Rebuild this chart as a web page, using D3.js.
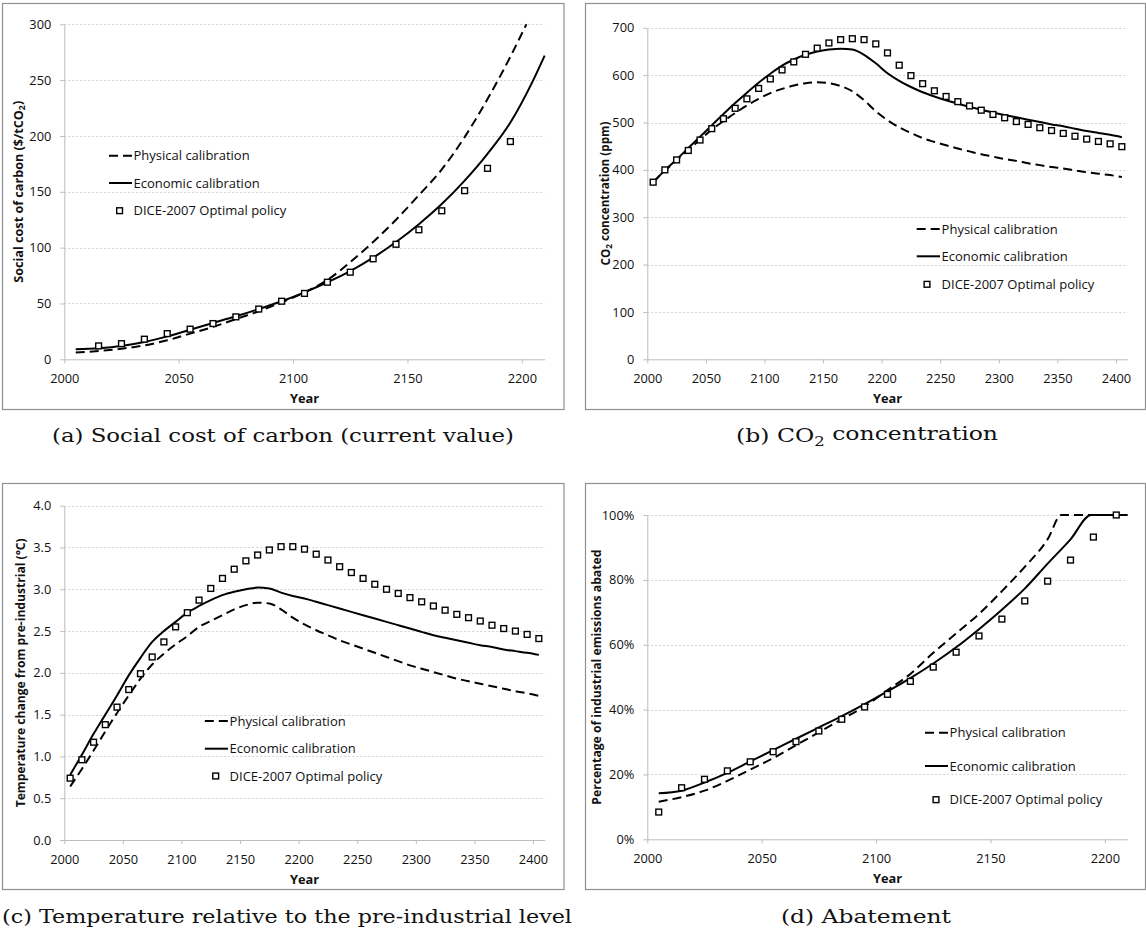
<!DOCTYPE html>
<html>
<head>
<meta charset="utf-8">
<script src="https://cdn.jsdelivr.net/npm/d3@7"></script>
<style>
  body { margin: 0; background: #fff; }
  svg { display: block; }
</style>
</head>
<body>
<svg id="fig" width="1146" height="933"></svg>
<script>
// ---------------- data ----------------
const seriesNames = ["Physical calibration", "Economic calibration", "DICE-2007 Optimal policy"];

// tick values
const yearTicksShort = [2000, 2050, 2100, 2150, 2200];
const yearTicksLong = [2000, 2050, 2100, 2150, 2200, 2250, 2300, 2350, 2400];
const sccTicks = [0, 50, 100, 150, 200, 250, 300];
const co2Ticks = [0, 100, 200, 300, 400, 500, 600, 700];
const tempTicks = [0, 0.5, 1, 1.5, 2, 2.5, 3, 3.5, 4];
const abateTicks = [0, 20, 40, 60, 80, 100];

// decadal time steps used by the 400-year runs
const decadeYears = [2005, 2015, 2025, 2035, 2045, 2055, 2065, 2075, 2085, 2095,
  2105, 2115, 2125, 2135, 2145, 2155, 2165, 2175, 2185, 2195,
  2205, 2215, 2225, 2235, 2245, 2255, 2265, 2275, 2285, 2295,
  2305, 2315, 2325, 2335, 2345, 2355, 2365, 2375, 2385, 2395, 2405];

// (a) social cost of carbon, $/tCO2
const sccPhysYears = [2005, 2015, 2025, 2035, 2045, 2055, 2065, 2075, 2085, 2095,
  2105, 2115, 2125, 2135, 2145, 2155, 2165, 2175, 2185, 2195, 2202];
const sccPhys = [6, 7.5, 9.5, 12.5, 17, 23, 29, 36, 43, 51,
  60, 71, 87, 105, 125, 147, 170, 199, 233, 271, 300];
const sccEconYears = [2005, 2015, 2025, 2035, 2045, 2055, 2065, 2075, 2085, 2095,
  2105, 2115, 2125, 2135, 2145, 2155, 2165, 2175, 2185, 2195, 2205, 2210];
const sccEcon = [9, 10, 12, 15.5, 20.5, 26.5, 32.5, 38.5, 45, 52,
  60, 69, 79, 91, 105, 121, 139, 160, 184, 212, 250, 272];
const sccDiceYears = [2015, 2025, 2035, 2045, 2055, 2065, 2075, 2085, 2095, 2105,
  2115, 2125, 2135, 2145, 2155, 2165, 2175, 2185, 2195];
const sccDice = [12, 14, 18, 23, 27, 32, 38, 45, 52, 59,
  69, 78, 90, 103, 116, 133, 151, 171, 195];

// (b) CO2 concentration, ppm
const co2Phys = [374, 398, 420, 442, 464, 485, 503, 520, 536, 550,
  562, 571, 578, 583, 585, 583, 577, 566, 547, 524,
  505, 490, 478, 467, 459, 452, 445, 439, 433, 428,
  423, 419, 414, 410, 406, 403, 399, 395, 392, 389, 385];
const co2Econ = [374, 399, 422, 446, 470, 494, 518, 541, 563, 584,
  603, 620, 633, 643, 650, 654, 656, 654, 643, 625,
  604, 588, 575, 564, 555, 547, 540, 533, 527, 521,
  516, 511, 506, 501, 496, 492, 487, 482, 478, 474, 469];
const co2Dice = [374, 400, 421, 441, 463, 487, 508, 530, 550, 572,
  592, 611, 628, 644, 657, 668, 675, 677, 675, 666,
  647, 621, 599, 582, 567, 555, 544, 535, 526, 517,
  510, 502, 496, 489, 483, 477, 471, 465, 460, 455, 449];

// (c) temperature change from pre-industrial, degC
const tempPhys = [0.64, 0.85, 1.07, 1.3, 1.52, 1.73, 1.93, 2.1, 2.23, 2.34,
  2.44, 2.55, 2.62, 2.69, 2.76, 2.81, 2.84, 2.83, 2.76, 2.66,
  2.58, 2.51, 2.45, 2.39, 2.34, 2.29, 2.24, 2.19, 2.14, 2.09,
  2.05, 2.01, 1.97, 1.93, 1.9, 1.87, 1.84, 1.81, 1.78, 1.755, 1.725];
const tempEcon = [0.78, 1.02, 1.27, 1.5, 1.73, 1.97, 2.18, 2.37, 2.5, 2.61,
  2.72, 2.8, 2.87, 2.93, 2.97, 3.0, 3.02, 3.01, 2.96, 2.92,
  2.89, 2.85, 2.81, 2.77, 2.73, 2.69, 2.65, 2.61, 2.57, 2.53,
  2.49, 2.45, 2.42, 2.39, 2.36, 2.33, 2.31, 2.28, 2.26, 2.24, 2.215];
const tempDice = [0.74, 0.96, 1.17, 1.38, 1.59, 1.8, 1.99, 2.19, 2.37, 2.55,
  2.72, 2.87, 3.01, 3.13, 3.24, 3.34, 3.41, 3.47, 3.51, 3.51,
  3.48, 3.42, 3.35, 3.27, 3.2, 3.13, 3.06, 3.0, 2.95, 2.9,
  2.85, 2.8, 2.75, 2.7, 2.66, 2.62, 2.57, 2.53, 2.5, 2.46, 2.41];

// (d) abatement, % of industrial emissions
const abatePhysYears = [2005, 2015, 2025, 2035, 2045, 2055, 2065, 2075, 2085, 2095,
  2105, 2115, 2125, 2135, 2145, 2155, 2165, 2175, 2181, 2210];
const abatePhys = [11.6, 13, 15, 18, 21.5, 25, 29, 33, 37, 41,
  46, 51, 57.5, 63.5, 69.5, 76.5, 84, 92.5, 100, 100];
const abateEconYears = [2005, 2015, 2025, 2035, 2045, 2055, 2065, 2075, 2085, 2095,
  2105, 2115, 2125, 2135, 2145, 2155, 2165, 2175, 2185, 2194, 2210];
const abateEcon = [14.2, 15, 17.5, 20.5, 24, 27.5, 31, 34.5, 38, 41.7,
  45.6, 49.7, 54.2, 59.2, 64.8, 70.8, 77.3, 85, 92.5, 100, 100];
const abateDiceYears = [2005, 2015, 2025, 2035, 2045, 2055, 2065, 2075, 2085, 2095,
  2105, 2115, 2125, 2135, 2145, 2155, 2165, 2175, 2185, 2195, 2205];
const abateDice = [8.4, 15.9, 18.5, 21.1, 23.9, 27.0, 30.1, 33.4, 37.0, 40.8,
  44.7, 48.7, 53.1, 57.7, 62.7, 67.9, 73.5, 79.6, 86.1, 93.2, 100];

// ---------------- layout ----------------
const zip = (xs, ys) => xs.map((v, i) => [v, ys[i]]);

const panels = [
  {
    frame: [2.5, 3.5, 564, 409.5],
    plot: { x0: 64.3, x1: 544.7, y0: 24.3, y1: 359.3 },
    xDomain: [2000, 2210], yDomain: [0, 300],
    xTicks: yearTicksShort, yTicks: sccTicks, yFmt: d3.format("d"),
    yTitle: [{ t: "Social cost of carbon ($/tCO" }, { t: "2", sub: true }, { t: ")" }],
    yTitleX: 18, yTitleLen: 182,
    caption: [{ t: "(a) Social cost of carbon (current value)" }],
    capX: 283, capY: 441.7, capLen: 462,
    legend: { sx0: 109, sx1: 132, tx: 133.5, rows: [155.7, 183, 210.7], sqx: 119.6 },
    phys: zip(sccPhysYears, sccPhys), econ: zip(sccEconYears, sccEcon), dice: zip(sccDiceYears, sccDice)
  },
  {
    frame: [585.5, 3.5, 1145.5, 409.5],
    plot: { x0: 647.3, x1: 1127.7, y0: 27.8, y1: 359.3 },
    xDomain: [2000, 2410], yDomain: [0, 700],
    xTicks: yearTicksLong, yTicks: co2Ticks, yFmt: d3.format("d"),
    yTitle: [{ t: "CO" }, { t: "2", sub: true }, { t: " concentration (ppm)" }],
    yTitleX: 605, yTitleLen: 144,
    caption: [{ t: "(b) CO" }, { t: "2", sub: true }, { t: " concentration" }],
    capX: 867, capY: 441.7, capLen: 262,
    legend: { sx0: 916.7, sx1: 940, tx: 941.6, rows: [229, 256.3, 284.3], sqx: 927 },
    phys: zip(decadeYears, co2Phys), econ: zip(decadeYears, co2Econ), dice: zip(decadeYears, co2Dice)
  },
  {
    frame: [2.5, 483.5, 564, 889.5],
    plot: { x0: 64.3, x1: 544.7, y0: 505.7, y1: 840 },
    xDomain: [2000, 2410], yDomain: [0, 4],
    xTicks: yearTicksLong, yTicks: tempTicks, yFmt: d3.format(".1f"),
    yTitle: [{ t: "Temperature change from pre-industrial (°C)" }],
    yTitleX: 20, yTitleLen: 269,
    caption: [{ t: "(c) Temperature relative to the pre-industrial level" }],
    capX: 287, capY: 923, capLen: 570,
    legend: { sx0: 204.8, sx1: 228, tx: 229.6, rows: [721, 748.7, 776], sqx: 215.7 },
    phys: zip(decadeYears, tempPhys), econ: zip(decadeYears, tempEcon), dice: zip(decadeYears, tempDice)
  },
  {
    frame: [585.5, 483.5, 1145.5, 889.5],
    plot: { x0: 647.3, x1: 1127.7, y0: 515, y1: 839.3 },
    xDomain: [2000, 2210], yDomain: [0, 100],
    xTicks: yearTicksShort, yTicks: abateTicks, yFmt: d => d + "%",
    yTitle: [{ t: "Percentage of industrial emissions abated" }],
    yTitleX: 596, yTitleLen: 255,
    caption: [{ t: "(d) Abatement" }],
    capX: 866, capY: 923, capLen: 170,
    legend: { sx0: 925, sx1: 948, tx: 949.6, rows: [732.7, 766, 799.7], sqx: 936 },
    phys: zip(abatePhysYears, abatePhys), econ: zip(abateEconYears, abateEcon), dice: zip(abateDiceYears, abateDice)
  }
];

// ---------------- drawing ----------------
const svg = d3.select("#fig");
const SANS = "'Open Sans', 'Noto Sans', sans-serif";
const SERIF = "'DejaVu Serif', 'Liberation Serif', serif";
const AXIS_GREY = "#bdbdbd";
const DASH = "9,5";

// writes text parts into a <text>, lowering the parts flagged as subscripts
function richText(textSel, parts) {
  parts.forEach(p => {
    const ts = textSel.append("tspan").text(p.t);
    if (p.sub) ts.attr("font-size", "70%").attr("dy", "0.3em");
    else if (textSel.selectAll("tspan").size() > 1) ts.attr("dy", "-0.3em");
  });
}

panels.forEach(p => {
  const g = svg.append("g");
  const { x0, x1, y0, y1 } = p.plot;

  g.append("rect")
    .attr("x", p.frame[0]).attr("y", p.frame[1])
    .attr("width", p.frame[2] - p.frame[0]).attr("height", p.frame[3] - p.frame[1])
    .attr("fill", "none").attr("stroke", "#8f8f8f").attr("stroke-width", 1.2);

  const x = d3.scaleLinear().domain(p.xDomain).range([x0, x1]);
  const y = d3.scaleLinear().domain(p.yDomain).range([y1, y0]);

  // horizontal gridlines
  g.append("g").selectAll("line")
    .data(p.yTicks.filter(v => v !== p.yDomain[0]))
    .join("line")
    .attr("x1", x0).attr("x2", x1)
    .attr("y1", d => Math.round(y(d)) + 0.5).attr("y2", d => Math.round(y(d)) + 0.5)
    .attr("stroke", "#d2d2d2").attr("stroke-width", 1).attr("stroke-dasharray", "2,2");

  // axes
  const gx = g.append("g").attr("transform", `translate(0,${y1})`)
    .call(d3.axisBottom(x).tickValues(p.xTicks).tickFormat(d3.format("d"))
      .tickSize(4).tickSizeOuter(0).tickPadding(10.5));
  const gy = g.append("g").attr("transform", `translate(${x0},0)`)
    .call(d3.axisLeft(y).tickValues(p.yTicks).tickFormat(p.yFmt)
      .tickSize(4).tickSizeOuter(0).tickPadding(9));
  [gx, gy].forEach(ax => {
    ax.attr("font-family", SANS).attr("font-size", 12.8);
    ax.select(".domain").attr("stroke", AXIS_GREY);
    ax.selectAll(".tick line").attr("stroke", AXIS_GREY);
    ax.selectAll(".tick text").attr("fill", "#111");
  });

  // axis titles
  g.append("text")
    .attr("x", (x0 + x1) / 2).attr("y", y1 + 43.5)
    .attr("text-anchor", "middle")
    .attr("font-family", SANS).attr("font-weight", "bold").attr("font-size", 12.8)
    .attr("fill", "#111").text("Year");

  const yt = g.append("text")
    .attr("transform", `translate(${p.yTitleX},${(y0 + y1) / 2}) rotate(-90)`)
    .attr("text-anchor", "middle").attr("dominant-baseline", "central")
    .attr("font-family", SANS).attr("font-weight", "bold").attr("font-size", 12)
    .attr("fill", "#111")
    .attr("textLength", p.yTitleLen).attr("lengthAdjust", "spacingAndGlyphs");
  richText(yt, p.yTitle);

  // series
  const line = d3.line().x(d => x(d[0])).y(d => y(d[1])).curve(d3.curveMonotoneX);
  g.append("path").datum(p.phys).attr("d", line)
    .attr("fill", "none").attr("stroke", "#000").attr("stroke-width", 2)
    .attr("stroke-dasharray", DASH);
  g.append("path").datum(p.econ).attr("d", line)
    .attr("fill", "none").attr("stroke", "#000").attr("stroke-width", 2);

  const sq = 5.8;
  g.append("g").selectAll("rect").data(p.dice).join("rect")
    .attr("x", d => x(d[0]) - sq / 2).attr("y", d => y(d[1]) - sq / 2)
    .attr("width", sq).attr("height", sq)
    .attr("fill", "#fff").attr("stroke", "#000").attr("stroke-width", 1.4);

  // legend
  const L = p.legend;
  const lg = g.append("g").attr("font-family", SANS).attr("font-size", 13).attr("fill", "#111");
  lg.append("line").attr("x1", L.sx0).attr("x2", L.sx1).attr("y1", L.rows[0]).attr("y2", L.rows[0])
    .attr("stroke", "#000").attr("stroke-width", 2).attr("stroke-dasharray", DASH);
  lg.append("line").attr("x1", L.sx0).attr("x2", L.sx1).attr("y1", L.rows[1]).attr("y2", L.rows[1])
    .attr("stroke", "#000").attr("stroke-width", 2);
  lg.append("rect").attr("x", L.sqx - sq / 2).attr("y", L.rows[2] - sq / 2)
    .attr("width", sq).attr("height", sq)
    .attr("fill", "#fff").attr("stroke", "#000").attr("stroke-width", 1.4);
  seriesNames.forEach((name, i) => {
    lg.append("text").attr("x", L.tx).attr("y", L.rows[i]).attr("dy", "0.35em").text(name);
  });

  // caption below the panel
  const cap = svg.append("text")
    .attr("x", p.capX).attr("y", p.capY).attr("text-anchor", "middle")
    .attr("font-family", SERIF).attr("font-size", 19).attr("fill", "#111")
    .attr("textLength", p.capLen).attr("lengthAdjust", "spacingAndGlyphs");
  richText(cap, p.caption);
});
</script>
</body>
</html>
